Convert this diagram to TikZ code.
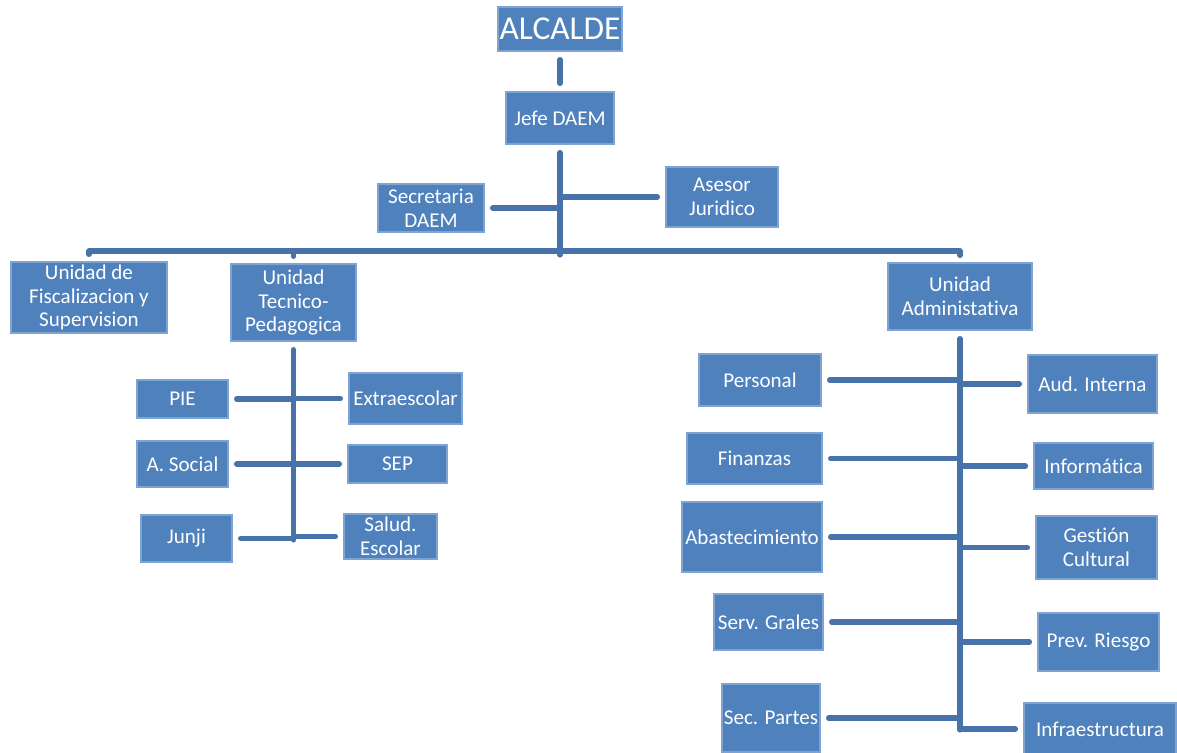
\documentclass[tikz,border=0pt]{standalone}
\usepackage{fontspec}
\setmainfont{Carlito}[Ligatures=NoCommon]

\newlength{\px}
\setlength{\px}{0.02cm}
\definecolor{boxblue}{HTML}{4F81BD}
\definecolor{boxrim}{HTML}{7FA3D3}
\definecolor{linkblue}{HTML}{4873AA}

\begin{document}
\begin{tikzpicture}[x=\px,y=-\px]

      \useasboundingbox (0,0) rectangle (1177,753);

      \begin{scope}[every node/.style={rectangle,fill=boxblue,draw=boxrim,line width=0.6pt,text=white,inner sep=0pt,align=center,font=\fontsize{12}{13.5}\selectfont}]
        \node[minimum width=124\px,minimum height=44\px,font=\fontsize{19}{20}\selectfont] (alcalde) at (560,29) {ALCALDE};
        \node[minimum width=108\px,minimum height=52\px] (jefe) at (560,118) {Jefe DAEM};
        \node[minimum width=106\px,minimum height=48\px] (secre) at (431,208) {Secretaria\\DAEM};
        \node[minimum width=112\px,minimum height=60\px] (asesor) at (722,197) {Asesor\\Juridico};
        \node[minimum width=156\px,minimum height=71\px] (ufis) at (89,297.5) {Unidad de\\Fiscalizacion y\\Supervision};
        \node[minimum width=125\px,minimum height=77\px] (utp) at (293.5,302.5) {Unidad\\Tecnico-\\Pedagogica};
        \node[minimum width=144\px,minimum height=67\px] (uadm) at (960,296.5) {Unidad\\Administativa};
        \node[minimum width=91\px,minimum height=38\px] (pie) at (182.5,399) {PIE};
        \node[minimum width=113\px,minimum height=51\px] (extra) at (405.5,398.5) {Extraescolar};
        \node[minimum width=91\px,minimum height=46\px] (social) at (182.5,464) {A. Social};
        \node[minimum width=99\px,minimum height=38\px] (sep) at (397.5,464) {SEP};
        \node[minimum width=91\px,minimum height=47\px] (junji) at (186.5,538.5) {Junji};
        \node[minimum width=93\px,minimum height=45\px] (salud) at (390.5,536.5) {Salud.\\Escolar};
        \node[minimum width=122\px,minimum height=52\px] (personal) at (760,380) {Personal};
        \node[minimum width=135\px,minimum height=51\px] (finanzas) at (754.5,458.5) {Finanzas};
        \node[minimum width=140\px,minimum height=70\px] (abast) at (752,537) {Abastecimiento};
        \node[minimum width=109\px,minimum height=56\px] (serv) at (768.5,622) {Serv. Grales};
        \node[minimum width=98\px,minimum height=68\px] (partes) at (771,718) {Sec. Partes};
        \node[minimum width=129\px,minimum height=58\px] (audit) at (1092.5,384) {Aud. Interna};
        \node[minimum width=119\px,minimum height=46\px] (informa) at (1093.5,466) {Informática};
        \node[minimum width=121\px,minimum height=63\px] (gestion) at (1096.5,547.5) {Gestión\\Cultural};
        \node[minimum width=121\px,minimum height=58\px] (prev) at (1098.5,642) {Prev. Riesgo};
        \node[minimum width=152\px,minimum height=52\px] (infra) at (1100,729) {Infraestructura};
      \end{scope}

      \coordinate (bus) at (560,251);
      \coordinate (utpend) at (293.5,540);
      \coordinate (uadmend) at (960,730);

      \begin{scope}[every edge/.style={draw=linkblue,line width=2.9pt,line cap=round}]

        \begin{scope}[every edge/.append style={shorten <=8\px}]
          \path (alcalde) edge[shorten >=8\px] (jefe);
          \path (jefe) edge (560,255);
          \path (secre) edge (secre -| bus);
          \path (asesor) edge (asesor -| bus);
          \path (utp) edge (utpend);
          \path (uadm) edge (uadmend);
          \path (pie) edge (pie -| utpend);
          \path (extra) edge (extra -| utpend);
          \path (social) edge (social -| utpend);
          \path (sep) edge (sep -| utpend);
          \path (junji) edge (junji -| utpend);
          \path (salud) edge (salud -| utpend);
          \path (personal) edge (personal -| uadmend);
          \path (finanzas) edge (finanzas -| uadmend);
          \path (abast) edge (abast -| uadmend);
          \path (serv) edge (serv -| uadmend);
          \path (partes) edge (partes -| uadmend);
          \path (audit) edge (audit -| uadmend);
          \path (informa) edge (informa -| uadmend);
          \path (gestion) edge (gestion -| uadmend);
          \path (prev) edge (prev -| uadmend);
          \path (infra) edge (infra -| uadmend);
        \end{scope}

        \path (ufis |- bus) edge (uadm |- bus);

        \begin{scope}[every edge/.append style={shorten >=7\px}]
          \path (ufis |- bus) edge (ufis);
          \path (utp |- bus) edge (utp);
          \path (uadm |- bus) edge (uadm);
        \end{scope}

      \end{scope}

    \end{tikzpicture}
\end{document}
